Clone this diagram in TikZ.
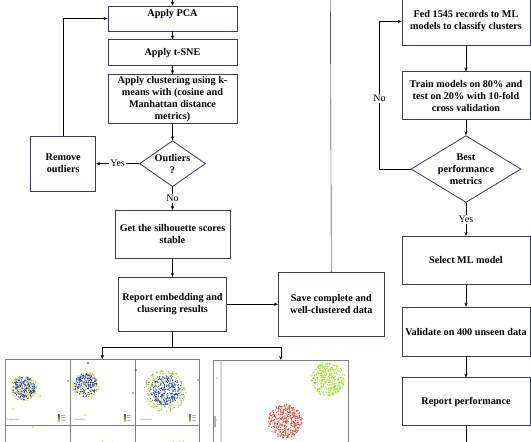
\documentclass[tikz,border=0pt]{standalone}
\usepackage{fontspec}
\setmainfont{Liberation Serif}
\usetikzlibrary{arrows.meta,calc,positioning,shapes.geometric}

\definecolor{boxline}{RGB}{58,58,92}
\definecolor{ptblue}{RGB}{40,64,190}
\definecolor{ptyellow}{RGB}{186,208,40}
\definecolor{ptteal}{RGB}{50,150,140}
\definecolor{ptred}{RGB}{232,70,45}
\definecolor{ptgreen}{RGB}{166,224,44}

% random dots inside a disc: x, y, radius, count, colour
\newcommand{\scatterblob}[5]{%
  \foreach \k in {1,...,#4}{
    \pgfmathsetmacro{\sang}{360*rnd}
    \pgfmathsetmacro{\srad}{#3*sqrt(rnd)}
    \fill[#5] (#1,#2) ++(\sang:\srad) circle (0.65);
  }}

\begin{document}
\begin{tikzpicture}[x=1pt,y=-1pt,>={Stealth[length=4pt,width=3.2pt]},
    box/.style={draw=boxline, line width=0.8pt, align=center, inner sep=2pt,
      font=\fontsize{10.2}{12}\selectfont\bfseries},
    decision/.style={box, diamond, inner sep=-5pt},
    panel/.style={draw=gray, line width=0.7pt, anchor=north west},
    lbl/.style={fill=white, inner sep=1pt, font=\fontsize{10}{11}\selectfont},
    tiny/.style={font=\fontsize{2.5}{3}\selectfont, inner sep=0pt, text=gray!70!black}]
    \useasboundingbox (0,0) rectangle (531,442);
    \clip (0,0) rectangle (531,442);
    \pgfmathsetseed{42}

    % left column
    \node (pca) [box, minimum width=129pt, minimum height=25pt, text depth=11pt]
      at (172.5,18.5) {Apply PCA};
    \node (tsne) [box, minimum width=129pt, minimum height=26pt, below=8pt of pca]
      {Apply t-SNE};
    \node (kmeans) [box, minimum width=129pt, minimum height=49pt, below=8pt of tsne]
      {Apply clustering using k-\\means with (cosine and\\Manhattan distance\\metrics)};
    \node (outl) [decision, minimum width=66pt, minimum height=46pt, below=16pt of kmeans]
      {Outliers\\?};
    \node (remove) [box, minimum width=65pt, minimum height=55pt, left=43pt of outl]
      {Remove\\outliers};
    \node (sil) [box, minimum width=115pt, minimum height=48pt, below=23pt of outl]
      {Get the silhouette scores\\stable};
    \node (report) [box, minimum width=108pt, minimum height=54pt, below=18pt of sil]
      {Report embedding and\\clusering results};
    \node (save) [box, minimum width=106pt, minimum height=64pt, right=51pt of report]
      {Save complete and\\well-clustered data};

    % right column
    \node (fed) [box, minimum width=128pt, minimum height=47pt] at (466,21.5)
      {Fed 1545 records to ML\\models to classify clusters};
    \node (train) [box, minimum width=128pt, minimum height=48pt, below=26pt of fed]
      {Train models on 80\% and\\test on 20\% with 10-fold\\cross validation};
    \node (best) [decision, minimum width=110pt, minimum height=66pt, below=15pt of train]
      {Best\\performance\\metrics};
    \node (select) [box, minimum width=128pt, minimum height=48pt, below=33pt of best]
      {Select ML model};
    \node (valid) [box, minimum width=128pt, minimum height=49pt, below=22pt of select]
      {Validate on 400 unseen data};
    \node (perf) [box, minimum width=128pt, minimum height=48pt, below=21pt of valid]
      {Report performance};
    \node (next) [box, minimum width=128pt, minimum height=48pt, below=20pt of perf] {};

    % result pictures
    \node (scatL) [panel, minimum width=194pt, minimum height=120pt] at (5,359) {};
    \node (scatR) [panel, minimum width=135pt, minimum height=120pt] at (213,360) {};

    \coordinate (fromabove) at (172.5,-5);
    \coordinate (toabove) at (330.5,-5);

    \draw[->] (fromabove) -- (pca);
    \draw[->] (pca) -- (tsne);
    \draw[->] (tsne) -- (kmeans);
    \draw[->] (kmeans) -- (outl);
    \draw[->] (outl) -- node[lbl] {Yes} (remove);
    \draw[->] (remove.north) |- (pca.west);
    \draw[->] (outl) -- node[lbl] {No} (sil);
    \draw[->] (sil) -- (report);
    \draw[->] (report) -- (save);
    \draw (save.north) -- (toabove);
    \draw (report.south) -- ++(0,16) coordinate (fork);
    \draw[->] (fork) -| (scatL.north);
    \draw[->] (fork) -| (scatR.north);

    \draw[->] (fed) -- (train);
    \draw[->] (train) -- (best);
    \draw[->] (best.west) -| node[pos=0.74, lbl] {No} ($(fed.west)+(-22,0)$) -- (fed.west);
    \draw[->] (best) -- node[lbl] {Yes} (select);
    \draw[->] (select) -- (valid);
    \draw[->] (valid) -- (perf);
    \draw[->] (perf) -- (next);

    % left picture: grid of clusterings
    \draw[gray, line width=0.6pt] (70,359) -- (70,442) (135,359) -- (135,442)
      (5,425) -- (199,425);
    \scatterblob{24}{388}{13}{170}{ptyellow}
    \scatterblob{24}{388}{11.5}{170}{ptblue}
    \scatterblob{86}{385}{13}{170}{ptyellow}
    \scatterblob{86}{385}{11.5}{170}{ptblue}
    \scatterblob{165}{391}{21}{230}{ptyellow}
    \scatterblob{165}{391}{21}{60}{ptteal}
    \scatterblob{165}{390}{15}{230}{ptblue}
    \scatterblob{110}{462}{22}{120}{ptyellow}
    \scatterblob{110}{462}{20}{90}{ptblue}
    \scatterblob{176}{462}{22}{120}{ptyellow}
    \scatterblob{176}{462}{20}{90}{ptblue}
    \fill[ptyellow] (13,409) circle (0.9) (40,396) circle (0.9) (85,415) circle (0.9)
      (33,427) circle (0.9);
    \fill[ptblue] (68,381) circle (0.9) (136,370) circle (0.9) (88,363) circle (0.9);
    \fill[ptteal] (198,380) circle (0.9) (133,393) circle (0.9);
    \foreach \cx/\name in {7/Clustering 1, 73/Clustering 2, 140/Clustering 3}
      \node[tiny, anchor=west] at (\cx,420) {\name};
    \foreach \lx in {58,124,189}{
      \shade[top color=ptblue, bottom color=ptyellow] (\lx,414) rectangle (\lx+1.6,421);
      \draw[gray!60, line width=0.3pt] (\lx+2.5,415) -- (\lx+7,415) (\lx+2.5,417.5) -- (\lx+7,417.5)
        (\lx+2.5,420) -- (\lx+7,420);
    }

    % right picture: two separated clusters
    \draw[gray!30, line width=1.6pt] (221,361) -- (221,442);
    \node[tiny] at (217,379) {10};
    \node[tiny] at (217,421) {5};
    \fill[gray!60] (213.5,416) rectangle (215.5,427);
    \scatterblob{328}{379}{17}{400}{ptgreen}
    \scatterblob{285}{421}{17}{400}{ptred}
  \end{tikzpicture}
\end{document}
